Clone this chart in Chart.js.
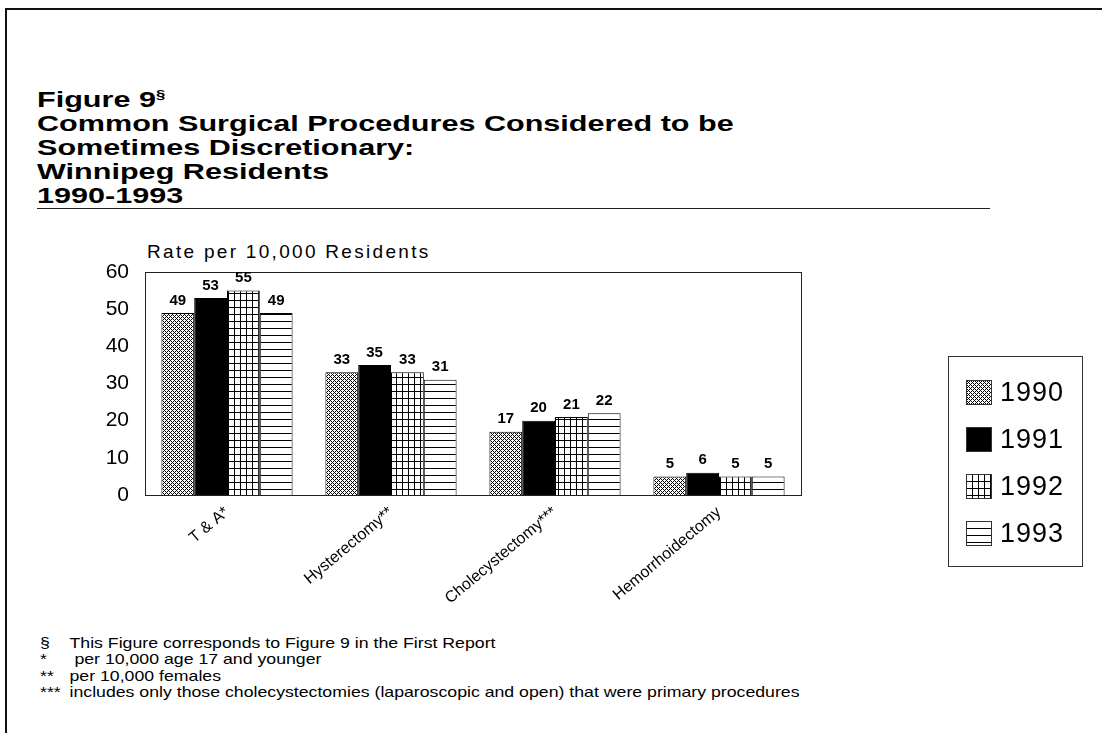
<!DOCTYPE html>
<html>
<head>
<meta charset="utf-8">
<script src="https://cdn.jsdelivr.net/npm/chart.js@4/dist/chart.umd.min.js"></script>
<style>
  body { margin: 0; background: #fff; font-family: "Liberation Sans", Arial, sans-serif; color: #000; }
  #page { position: relative; width: 1102px; height: 733px; overflow: hidden; }
  .frame-left { position: absolute; left: 5px; top: 8px; width: 2px; height: 725px; background: #111; }
  .frame-top  { position: absolute; left: 5px; top: 8px; width: 1097px; height: 2px; background: #111; }
  #title { position: absolute; left: 37px; top: 88px; font-weight: bold; font-size: 22px; line-height: 24px;
           transform: scaleX(1.39); transform-origin: left top; white-space: nowrap; }
  #title sup { font-size: 12px; vertical-align: 8px; line-height: 0; }
  .rule { position: absolute; left: 37px; top: 208px; width: 953px; height: 1px; background: #222; }
  #ytitle { position: absolute; left: 147px; top: 241px; font-size: 19px; letter-spacing: 2.3px; white-space: nowrap; }
  #chart-wrap { position: absolute; left: 0; top: 230px; width: 930px; height: 380px; }
  #legend { position: absolute; left: 948px; top: 356px; width: 135px; height: 211px; border: 1px solid #333; padding-top: 12px; box-sizing: border-box; }
  .leg-item { height: 47px; display: flex; align-items: center; padding-left: 17px; font-size: 27px; letter-spacing: 1px; }
  .leg-item canvas { margin-right: 8px; }
  #notes { position: absolute; left: 40px; top: 635px; font-size: 15px; line-height: 16.3px;
           transform: scaleX(1.18); transform-origin: left top; white-space: nowrap; }
  #notes .sym { display: inline-block; width: 25px; }
</style>
</head>
<body>
<div id="page">
  <div class="frame-left"></div>
  <div class="frame-top"></div>
  <div id="title">
    Figure 9<sup>§</sup><br>
    Common Surgical Procedures Considered to be<br>
    Sometimes Discretionary:<br>
    Winnipeg Residents<br>
    1990-1993
  </div>
  <div class="rule"></div>
  <div id="ytitle">Rate per 10,000 Residents</div>
  <div id="chart-wrap"><canvas id="chart" width="930" height="380"></canvas></div>
  <div id="legend"></div>
  <div id="notes">
    <div><span class="sym">§</span>This Figure corresponds to Figure 9 in the First Report</div>
    <div><span class="sym">*</span> per 10,000 age 17 and younger</div>
    <div><span class="sym">**</span>per 10,000 females</div>
    <div><span class="sym">***</span>includes only those cholecystectomies (laparoscopic and open) that were primary procedures</div>
  </div>
</div>
<script>
// ── Data ─────────────────────────────────────────────────────────────────────
const CATEGORIES = ['T & A*', 'Hysterectomy**', 'Cholecystectomy***', 'Hemorrhoidectomy'];
const YEARS      = ['1990', '1991', '1992', '1993'];
const RATE_1990  = [49, 33, 17, 5];
const RATE_1991  = [53, 35, 20, 6];
const RATE_1992  = [55, 33, 21, 5];
const RATE_1993  = [49, 31, 22, 5];
const Y_TICKS    = [0, 10, 20, 30, 40, 50, 60];

const SERIES = [RATE_1990, RATE_1991, RATE_1992, RATE_1993];
const FONT = '"Liberation Sans", Arial, sans-serif';

// ── Fill patterns ────────────────────────────────────────────────────────────
function makePattern(kind) {
  const c = document.createElement('canvas');
  const g = c.getContext('2d');
  if (kind === 'cross') {
    c.width = 4; c.height = 4;
    g.fillStyle = '#fff'; g.fillRect(0, 0, 4, 4);
    g.fillStyle = '#000';
    for (let x = 0; x < 4; x++) for (let y = 0; y < 4; y++) {
      if ((x + y) % 4 === 0 || (x - y + 4) % 4 === 0) g.fillRect(x, y, 1, 1);
    }
  } else if (kind === 'solid') {
    c.width = 2; c.height = 2;
    g.fillStyle = '#000'; g.fillRect(0, 0, 2, 2);
  } else if (kind === 'grid') {
    c.width = 6; c.height = 7;
    g.fillStyle = '#fff'; g.fillRect(0, 0, 6, 7);
    g.fillStyle = '#000';
    g.fillRect(0, 0, 1, 7);
    g.fillRect(0, 0, 6, 1);
  } else {
    c.width = 4; c.height = 7;
    g.fillStyle = '#fff'; g.fillRect(0, 0, 4, 7);
    g.fillStyle = '#000';
    g.fillRect(0, 0, 4, 1);
  }
  return g.createPattern(c, 'repeat');
}

const PATTERN_KINDS = ['cross', 'solid', 'grid', 'lines'];

// ── Plugins ──────────────────────────────────────────────────────────────────
const frameBox = {
  id: 'frameBox',
  afterDatasetsDraw(chart) {
    const { ctx, chartArea: a } = chart;
    ctx.save();
    ctx.strokeStyle = '#222';
    ctx.lineWidth = 1;
    ctx.strokeRect(Math.round(a.left) + 0.5, Math.round(a.top) + 0.5,
                   Math.round(a.right - a.left), Math.round(a.bottom - a.top));
    ctx.restore();
  },
};

const valueLabels = {
  id: 'valueLabels',
  afterDatasetsDraw(chart) {
    const { ctx } = chart;
    ctx.save();
    ctx.font = 'bold 15px ' + FONT;
    ctx.fillStyle = '#000';
    ctx.textAlign = 'center';
    ctx.textBaseline = 'bottom';
    chart.data.datasets.forEach((ds, i) => {
      chart.getDatasetMeta(i).data.forEach((bar, j) => {
        ctx.fillText(String(ds.data[j]), bar.x, bar.y - 5);
      });
    });
    ctx.restore();
  },
};

// ── Chart ────────────────────────────────────────────────────────────────────
Chart.defaults.font.family = FONT;
Chart.defaults.color = '#000';

const datasets = YEARS.map((yr, i) => ({
  label: yr,
  data: SERIES[i],
  backgroundColor: makePattern(PATTERN_KINDS[i]),
  borderColor: '#000',
  borderWidth: 1,
  categoryPercentage: 0.8,
  barPercentage: 1.0,
}));

new Chart(document.getElementById('chart').getContext('2d'), {
  type: 'bar',
  data: { labels: CATEGORIES, datasets },
  options: {
    responsive: false,
    animation: false,
    layout: { padding: { top: 42, right: 129, left: 0, bottom: 0 } },
    plugins: { legend: { display: false }, tooltip: { enabled: false } },
    scales: {
      x: {
        grid: { display: false },
        border: { display: false },
        ticks: { autoSkip: false, minRotation: 40, maxRotation: 40, padding: 0, font: { size: 16 } },
        afterFit: s => { s.height = 115; },
      },
      y: {
        min: 0, max: 60,
        grid: { display: false },
        border: { display: false },
        afterBuildTicks: s => { s.ticks = Y_TICKS.map(v => ({ value: v })); },
        ticks: { padding: 8, font: { size: 21 } },
        afterFit: s => { s.width = 145; },
      },
    },
  },
  plugins: [frameBox, valueLabels],
});

// ── Legend ───────────────────────────────────────────────────────────────────
const legendEl = document.getElementById('legend');
YEARS.forEach((yr, i) => {
  const row = document.createElement('div');
  row.className = 'leg-item';
  const sw = document.createElement('canvas');
  sw.width = 26; sw.height = 25;
  const g = sw.getContext('2d');
  g.fillStyle = makePattern(PATTERN_KINDS[i]);
  g.fillRect(0, 0, 26, 25);
  g.strokeStyle = '#333';
  g.strokeRect(0.5, 0.5, 25, 24);
  row.appendChild(sw);
  row.appendChild(document.createTextNode(yr));
  legendEl.appendChild(row);
});
</script>
</body>
</html>
